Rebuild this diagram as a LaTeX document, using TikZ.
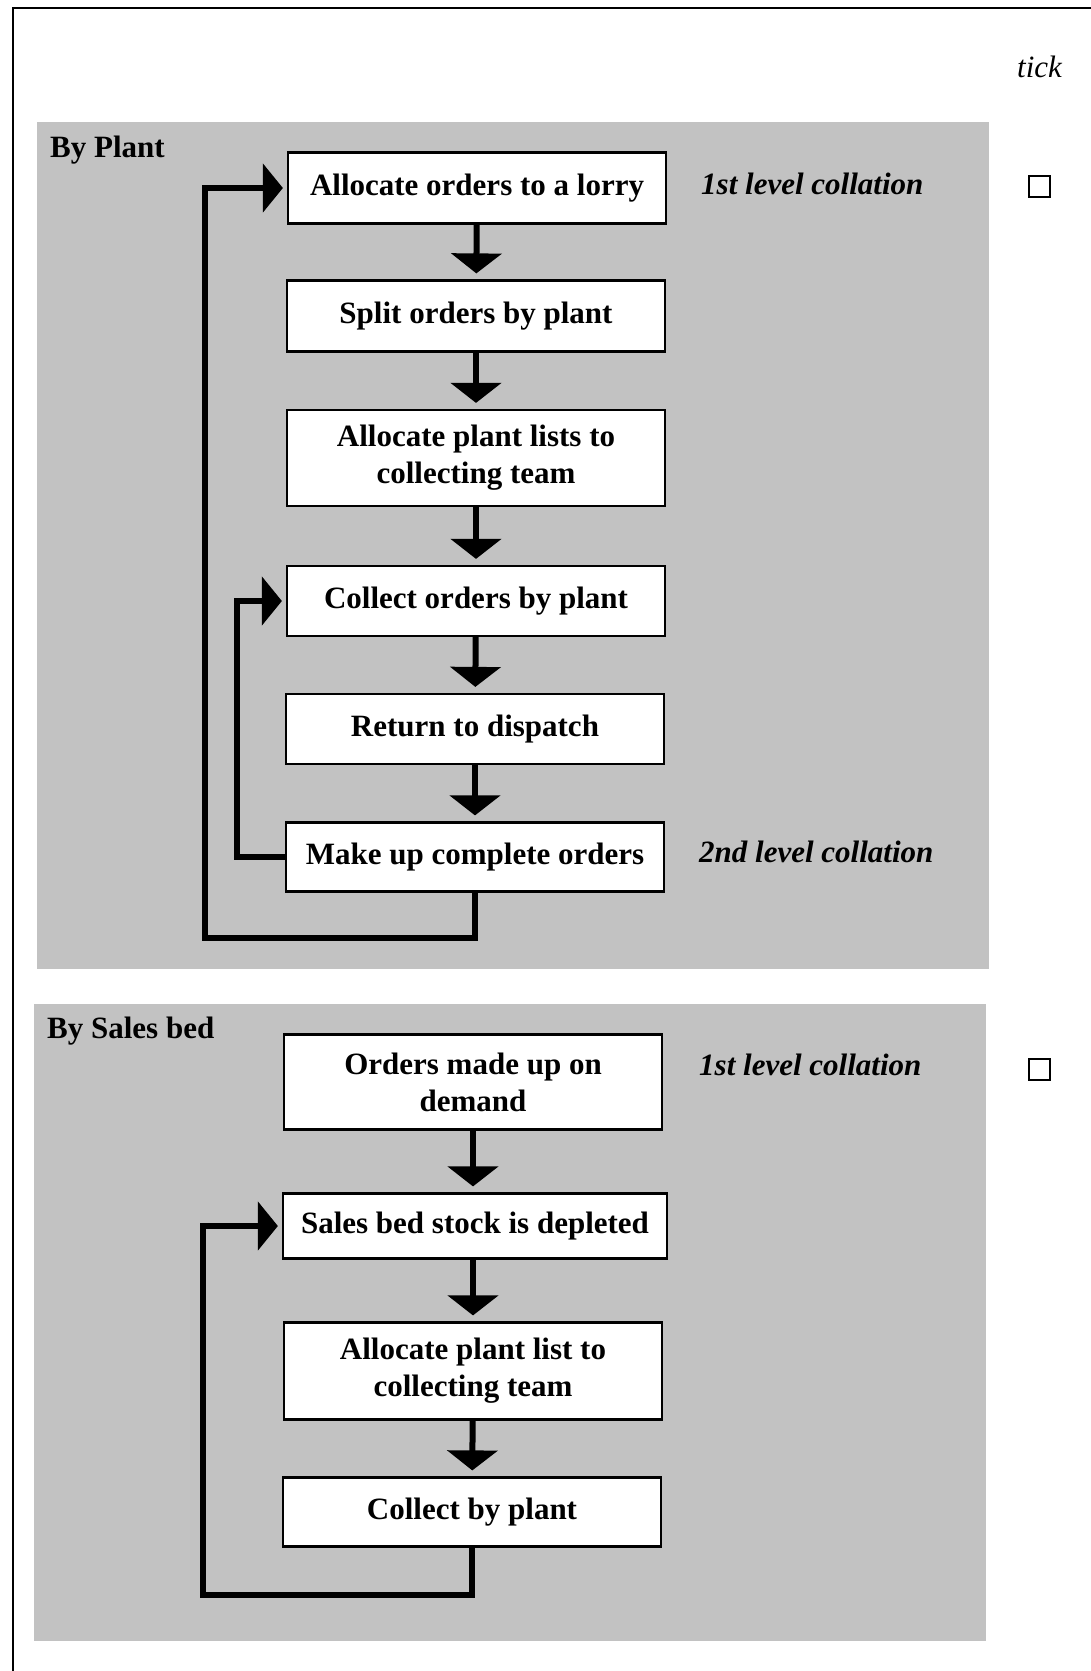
\documentclass[tikz,border=0pt]{standalone}
\usepackage{fontspec}
\setmainfont{Liberation Serif}
\usetikzlibrary{arrows.meta}
\begin{document}
\begin{tikzpicture}[x=1pt,y=-1pt,
  panel/.style={fill=black!24, draw=none},
  stepbox/.style={draw, line width=2.2pt, fill=white, minimum width=378pt,
    align=center, inner sep=0pt, font=\fontsize{31}{37}\selectfont\bfseries},
  flow/.style={line width=6pt, -{Triangle[length=20pt,width=50pt]}, shorten >=6pt},
  back/.style={line width=6pt, -{Triangle[length=20pt,width=48pt]}, shorten >=4pt},
  note/.style={anchor=west, inner sep=0pt, font=\fontsize{31}{37}\selectfont\bfseries\itshape},
  heading/.style={anchor=west, inner sep=0pt, font=\fontsize{31}{37}\selectfont\bfseries},
  checkbox/.style={draw, line width=2pt, minimum size=21pt, inner sep=0pt}
]
\useasboundingbox (0,0) rectangle (1091,1671);
\fill[white] (0,0) rectangle (1091,1671);

% page frame (left and top rules)
\draw[line width=2pt] (13,1671) -- (13,8) -- (1091,8);

% shaded panels
\fill[panel] (37,122) rectangle (989,969);
\fill[panel] (34,1004) rectangle (986,1641);

% column heading
\node[anchor=west, inner sep=0pt, font=\fontsize{31}{37}\selectfont\itshape] (tick) at (1017,67) {tick};

% ---- By Plant ----
\node[heading] (plant) at (50,150) {By Plant};
\node[stepbox, minimum height=71pt] (p1) at (477,188) {Allocate orders to a lorry};
\node[stepbox, minimum height=71pt] (p2) at (476,316) {Split orders by plant};
\node[stepbox, minimum height=96pt] (p3) at (476,458) {Allocate plant lists to\\collecting team};
\node[stepbox, minimum height=70pt] (p4) at (476,601) {Collect orders by plant};
\node[stepbox, minimum height=70pt] (p5) at (475,729) {Return to dispatch};
\node[stepbox, minimum height=69pt] (p6) at (475,857) {Make up complete orders};

\node[note] (c1) at (701,184) {1st level collation};
\node[note] (c2) at (699,852) {2nd level collation};
\node[checkbox] (t1) at (1039,186) {};

% return paths of the first flow
\coordinate (outerA) at (205,938);
\coordinate (innerA) at (237,857);

\draw[flow] (p1) -- (p2);
\draw[flow] (p2) -- (p3);
\draw[flow] (p3) -- (p4);
\draw[flow] (p4) -- (p5);
\draw[flow] (p5) -- (p6);
\draw[back] (p6.west) -- (innerA) |- (p4.west);
\draw[back] (p6.south) -- (p6.south |- outerA) -- (outerA) |- (p1.west);

% ---- By Sales bed ----
\node[heading] (bed) at (47,1031) {By Sales bed};
\node[stepbox, minimum height=95pt] (s1) at (473,1082) {Orders made up on\\demand};
\node[stepbox, minimum height=65pt, minimum width=384pt] (s2) at (475,1226) {Sales bed stock is depleted};
\node[stepbox, minimum height=97pt] (s3) at (473,1371) {Allocate plant list to\\collecting team};
\node[stepbox, minimum height=69pt] (s4) at (472,1512) {Collect by plant};

\node[note] (c3) at (699,1065) {1st level collation};
\node[checkbox] (t2) at (1039,1069) {};

% return path of the second flow
\coordinate (outerB) at (203,1595);

\draw[flow] (s1.south) -- (s1.south |- s2.north);
\draw[flow] (s2.south -| s3.north) -- (s3.north);
\draw[flow] (s3) -- (s4);
\draw[back] (s4.south) -- (s4.south |- outerB) -- (outerB) |- (s2.west);
\end{tikzpicture}
\end{document}
